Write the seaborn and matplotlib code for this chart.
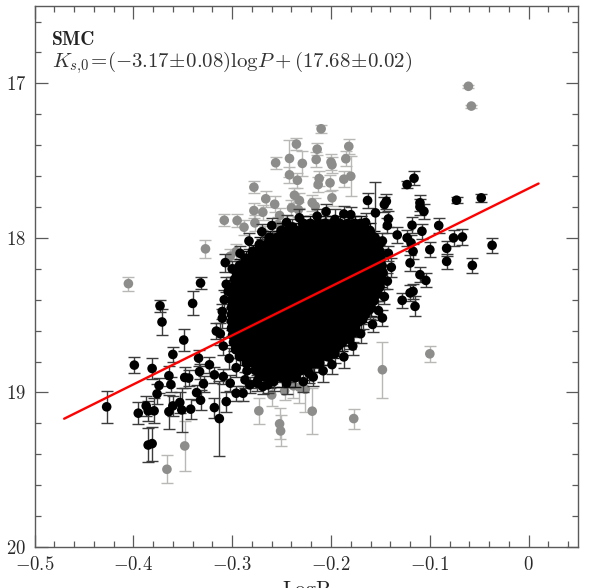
import matplotlib
matplotlib.use("Agg")
import matplotlib.pyplot as plt
import seaborn as sns
import pandas as pd
from matplotlib.ticker import MultipleLocator, FuncFormatter

# ---------------- data ----------------
# isolated / edge black points: logP, Ks magnitude, error
black_x = [-0.427,-0.399,-0.381,-0.373,-0.371,-0.340,-0.332,-0.307,-0.349,-0.360,
           -0.364,-0.374,-0.376,-0.395,-0.387,-0.385,-0.379,-0.385,-0.381,-0.364,
           -0.362,-0.360,-0.353,-0.351,-0.342,-0.348,-0.344,-0.336,-0.332,-0.333,
           -0.329,-0.334,-0.323,-0.318,-0.318,-0.313,-0.306,-0.309,-0.302,-0.296,
           -0.289,-0.316,-0.310,-0.304,-0.287,-0.282,-0.275,-0.269,-0.274,-0.264,
           -0.262,-0.255,-0.243,-0.242,-0.222,-0.225,-0.232,-0.193,-0.196,-0.181,
           -0.178,-0.168,-0.161,-0.148,-0.128,-0.115,-0.104,-0.110,-0.117,-0.120,
           -0.083,-0.057,-0.083,-0.076,-0.067,-0.100,-0.037,-0.091,-0.108,-0.118,
           -0.073,-0.048,-0.123,-0.116,-0.163,-0.146,-0.144,-0.110,-0.110,-0.106,
           -0.155,-0.142,-0.143,-0.133,-0.123,-0.119,-0.117,-0.120,-0.239,
           -0.245,-0.232,-0.214,-0.196,-0.180,-0.165,-0.205,-0.187,
           -0.148,-0.142,-0.139,-0.143,-0.146,-0.152,-0.158,
           -0.170,-0.178,-0.187,-0.199,-0.208,-0.218,-0.228,
           -0.245,-0.258,-0.272,-0.285,
           -0.306,-0.308,-0.310,-0.312,-0.309,-0.303,-0.296,-0.300,-0.292,-0.283,-0.270,-0.260]
black_y = [19.093,18.823,18.845,18.439,18.544,18.424,18.292,18.160,18.661,18.754,
           18.892,18.955,19.009,19.134,19.087,19.119,19.119,19.340,19.331,19.124,
           18.949,19.087,19.065,19.113,19.108,18.903,18.907,19.001,19.050,18.865,
           18.944,18.778,18.821,18.886,19.098,19.169,19.059,18.897,18.940,19.005,
           19.005,18.603,18.476,18.346,18.918,18.951,18.940,18.962,18.918,18.951,
           18.918,18.875,18.875,18.832,18.879,18.821,18.789,18.703,18.750,18.659,
           18.616,18.529,18.465,18.518,18.404,18.443,18.275,18.238,18.346,18.356,
           18.152,18.178,18.067,18.000,17.994,18.076,18.048,17.920,17.957,17.918,
           17.756,17.741,17.655,17.614,17.758,17.784,17.763,17.773,17.799,17.828,
           17.838,17.877,17.920,17.981,18.000,18.032,18.087,18.162,17.929,
           17.900,17.870,17.860,17.880,17.850,17.900,17.830,17.845,
           18.020,18.100,18.190,18.280,18.380,18.470,18.560,
           18.620,18.700,18.770,18.820,18.860,18.900,18.930,
           18.940,18.930,18.900,18.860,
           18.300,18.400,18.520,18.620,18.700,18.780,18.840,18.200,18.100,18.020,17.960,17.920]
black_e = [0.104,0.05,0.065,0.04,0.085,0.078,0.04,0.058,0.07,0.05,
           0.065,0.05,0.065,0.07,0.065,0.065,0.08,0.11,0.11,0.11,
           0.05,0.065,0.065,0.14,0.065,0.065,0.05,0.05,0.065,0.05,
           0.05,0.05,0.05,0.05,0.065,0.24,0.065,0.05,0.05,0.05,
           0.05,0.05,0.05,0.05,0.05,0.05,0.05,0.05,0.05,0.05,
           0.05,0.06,0.06,0.06,0.06,0.06,0.06,0.06,0.06,0.06,
           0.06,0.06,0.06,0.05,0.05,0.065,0.045,0.05,0.05,0.05,
           0.05,0.05,0.05,0.05,0.05,0.05,0.05,0.05,0.05,0.05,
           0.02,0.025,0.025,0.045,0.05,0.05,0.05,0.05,0.05,0.05,
           0.2,0.05,0.05,0.05,0.05,0.05,0.05,0.05,0.05,
           0.05,0.06,0.05,0.07,0.05,0.06,0.05,0.05,
           0.05,0.05,0.06,0.05,0.05,0.06,0.05,
           0.06,0.06,0.07,0.06,0.07,0.06,0.07,
           0.07,0.06,0.06,0.07,
           0.05,0.06,0.06,0.07,0.06,0.07,0.06,0.05,0.05,0.05,0.05,0.05]

# dense core of the distribution: (Ks, error, [logP values])
core_rows = [
    (17.910, 0.05, [-0.228,-0.221,-0.213,-0.206,-0.198,-0.191,-0.183,-0.176,-0.170]),
    (17.955, 0.05, [-0.250,-0.243,-0.235,-0.228,-0.220,-0.213,-0.205,-0.198,-0.190,-0.183,-0.175,-0.168,-0.161]),
    (18.000, 0.045, [-0.262,-0.254,-0.247,-0.239,-0.232,-0.224,-0.217,-0.209,-0.202,-0.194,-0.187,-0.179,-0.172,-0.164,-0.156]),
    (18.045, 0.05, [-0.272,-0.265,-0.257,-0.250,-0.243,-0.235,-0.228,-0.220,-0.213,-0.205,-0.198,-0.190,-0.183,-0.175,-0.168,-0.160,-0.152]),
    (18.090, 0.045, [-0.279,-0.271,-0.264,-0.256,-0.249,-0.241,-0.234,-0.226,-0.219,-0.211,-0.204,-0.196,-0.189,-0.181,-0.174,-0.166,-0.159,-0.151]),
    (18.135, 0.05, [-0.286,-0.278,-0.271,-0.263,-0.256,-0.248,-0.241,-0.233,-0.226,-0.218,-0.211,-0.203,-0.196,-0.188,-0.181,-0.173,-0.166,-0.158,-0.150]),
    (18.180, 0.045, [-0.292,-0.284,-0.277,-0.269,-0.262,-0.254,-0.247,-0.239,-0.232,-0.224,-0.217,-0.209,-0.202,-0.194,-0.187,-0.179,-0.172,-0.164,-0.157,-0.149]),
    (18.225, 0.05, [-0.295,-0.288,-0.280,-0.273,-0.265,-0.258,-0.250,-0.243,-0.235,-0.228,-0.220,-0.213,-0.205,-0.198,-0.190,-0.183,-0.175,-0.168,-0.160,-0.153,-0.148]),
    (18.270, 0.05, [-0.297,-0.290,-0.282,-0.275,-0.267,-0.260,-0.252,-0.245,-0.237,-0.230,-0.222,-0.215,-0.207,-0.200,-0.192,-0.185,-0.177,-0.170,-0.162,-0.155,-0.149]),
    (18.315, 0.045, [-0.298,-0.291,-0.283,-0.276,-0.268,-0.261,-0.253,-0.246,-0.238,-0.231,-0.223,-0.216,-0.208,-0.201,-0.193,-0.186,-0.178,-0.171,-0.163,-0.156,-0.151]),
    (18.360, 0.05, [-0.299,-0.292,-0.284,-0.277,-0.269,-0.262,-0.254,-0.247,-0.239,-0.232,-0.224,-0.217,-0.209,-0.202,-0.194,-0.187,-0.179,-0.172,-0.164,-0.157,-0.153]),
    (18.405, 0.05, [-0.300,-0.293,-0.285,-0.278,-0.270,-0.263,-0.255,-0.248,-0.240,-0.233,-0.225,-0.218,-0.210,-0.203,-0.195,-0.188,-0.180,-0.173,-0.165,-0.157]),
    (18.450, 0.055, [-0.300,-0.292,-0.285,-0.277,-0.270,-0.262,-0.255,-0.247,-0.240,-0.232,-0.225,-0.217,-0.210,-0.202,-0.195,-0.187,-0.180,-0.172,-0.165,-0.160]),
    (18.495, 0.05, [-0.300,-0.293,-0.285,-0.278,-0.270,-0.263,-0.255,-0.248,-0.240,-0.233,-0.225,-0.218,-0.210,-0.203,-0.195,-0.188,-0.180,-0.173,-0.166]),
    (18.540, 0.055, [-0.300,-0.292,-0.285,-0.277,-0.270,-0.262,-0.255,-0.247,-0.240,-0.232,-0.225,-0.217,-0.210,-0.202,-0.195,-0.187,-0.180,-0.172]),
    (18.585, 0.05, [-0.300,-0.293,-0.285,-0.278,-0.270,-0.263,-0.255,-0.248,-0.240,-0.233,-0.225,-0.218,-0.210,-0.203,-0.195,-0.188,-0.180,-0.176]),
    (18.630, 0.06, [-0.299,-0.291,-0.284,-0.276,-0.269,-0.261,-0.254,-0.246,-0.239,-0.231,-0.224,-0.216,-0.209,-0.201,-0.194,-0.186,-0.182]),
    (18.675, 0.055, [-0.298,-0.291,-0.283,-0.276,-0.268,-0.261,-0.253,-0.246,-0.238,-0.231,-0.223,-0.216,-0.208,-0.201,-0.193,-0.189]),
    (18.720, 0.06, [-0.296,-0.288,-0.281,-0.273,-0.266,-0.258,-0.251,-0.243,-0.236,-0.228,-0.221,-0.213,-0.206,-0.198]),
    (18.765, 0.06, [-0.292,-0.285,-0.277,-0.270,-0.262,-0.255,-0.247,-0.240,-0.232,-0.225,-0.217,-0.210,-0.203]),
    (18.810, 0.06, [-0.285,-0.277,-0.270,-0.262,-0.255,-0.247,-0.240,-0.232,-0.225,-0.217,-0.212]),
    (18.855, 0.065, [-0.276,-0.269,-0.261,-0.254,-0.246,-0.239,-0.231,-0.224]),
    (18.900, 0.065, [-0.265,-0.258,-0.250,-0.243,-0.236]),
]

# rejected (grey) points
gray_x = [-0.405,-0.327,-0.366,-0.348,-0.273,-0.296,-0.302,-0.210,-0.235,-0.242,
          -0.256,-0.229,-0.214,-0.215,-0.200,-0.199,-0.182,-0.185,-0.242,-0.234,
          -0.212,-0.213,-0.201,-0.187,-0.180,-0.278,-0.266,-0.237,-0.232,-0.257,
          -0.278,-0.269,-0.308,-0.295,-0.288,-0.277,-0.252,-0.254,-0.240,-0.233,
          -0.219,-0.216,-0.199,-0.267,-0.061,-0.058,-0.148,-0.100,-0.177,-0.219,
          -0.252,-0.251,-0.247,-0.238,-0.232,-0.226,-0.260]
gray_y = [18.296,18.071,19.497,19.346,19.119,18.089,18.119,17.294,17.393,17.486,
          17.514,17.518,17.426,17.493,17.510,17.527,17.408,17.488,17.592,17.627,
          17.616,17.655,17.644,17.620,17.601,17.672,17.747,17.724,17.758,17.782,
          17.823,17.834,17.886,17.888,17.931,17.903,17.855,17.914,17.806,17.817,
          17.773,17.795,17.741,17.972,17.019,17.147,18.853,18.750,19.169,19.121,
          19.203,19.249,18.990,18.957,18.966,18.979,19.016]
gray_e = [0.045,0.058,0.09,0.16,0.085,0.05,0.05,0.025,0.04,0.12,
          0.04,0.08,0.04,0.05,0.05,0.05,0.05,0.05,0.05,0.05,
          0.05,0.05,0.05,0.05,0.13,0.04,0.05,0.05,0.05,0.05,
          0.05,0.05,0.04,0.04,0.05,0.05,0.05,0.05,0.05,0.05,
          0.05,0.05,0.05,0.05,0.01,0.01,0.18,0.05,0.065,0.15,
          0.1,0.1,0.06,0.08,0.1,0.15,0.07]

# fitted relation Ks,0 = a logP + b
fit_slope = -3.17
fit_intercept = 17.68
fit_x = [-0.47, 0.01]

x_ticks = [-0.5, -0.4, -0.3, -0.2, -0.1, 0.0]
y_ticks = [17, 18, 19, 20]

# ---------------- tables ----------------
core = pd.DataFrame([(x, y, e) for (y, e, xs) in core_rows for x in xs],
                    columns=["logP", "Ks", "err"])
outer = pd.DataFrame({"logP": black_x, "Ks": black_y, "err": black_e})
bad = pd.DataFrame({"logP": gray_x, "Ks": gray_y, "err": gray_e})
fit = pd.DataFrame({"logP": fit_x,
                    "Ks": [fit_slope * v + fit_intercept for v in fit_x]})

# ---------------- style ----------------
sns.set_theme(style="ticks")
plt.rcParams.update({
    "font.family": ["cmr10"],
    "mathtext.fontset": "cm",
    "axes.formatter.use_mathtext": True,
    "axes.unicode_minus": True,
})

fig = plt.figure(figsize=(5.98, 5.88), dpi=100)
ax = fig.add_axes([0.0577, 0.0697, 0.909, 0.920])

ax.errorbar(bad["logP"], bad["Ks"], yerr=bad["err"], fmt="none",
            ecolor="#b8b8b6", elinewidth=1.0, capsize=4.5, capthick=1.0, zorder=1)
sns.scatterplot(data=bad, x="logP", y="Ks", color="#8d8d8b", s=48,
                edgecolor="none", linewidth=0, legend=False, ax=ax, zorder=2)

ax.errorbar(core["logP"], core["Ks"], yerr=core["err"], fmt="none",
            ecolor="#111111", elinewidth=1.0, capsize=4.5, capthick=1.0, zorder=3)
ax.errorbar(outer["logP"], outer["Ks"], yerr=outer["err"], fmt="none",
            ecolor="#3c3c3c", elinewidth=1.0, capsize=4.5, capthick=1.0, zorder=3)
sns.scatterplot(data=core, x="logP", y="Ks", color="black", s=62,
                edgecolor="none", linewidth=0, legend=False, ax=ax, zorder=4)
sns.scatterplot(data=outer, x="logP", y="Ks", color="black", s=48,
                edgecolor="none", linewidth=0, legend=False, ax=ax, zorder=4)

sns.lineplot(data=fit, x="logP", y="Ks", color="red", linewidth=1.7,
             ax=ax, zorder=6)

ax.set_xlim(-0.5, 0.05)
ax.set_ylim(20, 16.5)
ax.set_xticks(x_ticks)
ax.set_yticks(y_ticks)
ax.xaxis.set_minor_locator(MultipleLocator(0.02))
ax.yaxis.set_minor_locator(MultipleLocator(0.2))
fmt = FuncFormatter(lambda v, p: "$%g$" % (round(v, 2) + 0.0))
ax.xaxis.set_major_formatter(fmt)
ax.yaxis.set_major_formatter(fmt)

spine_col = "#5a5a5a"
for s in ax.spines.values():
    s.set_visible(True)
    s.set_color(spine_col)
    s.set_linewidth(1.0)
ax.tick_params(which="both", direction="in", top=True, right=True,
               color=spine_col, width=0.9, labelsize=13.5, labelcolor="#2a2a2a")
ax.tick_params(which="major", length=9.0)
ax.tick_params(which="minor", length=4.5)
ax.tick_params(axis="x", which="major", pad=6.5)
ax.tick_params(axis="y", which="major", pad=6)

ax.set_xlabel("LogP", fontsize=15, labelpad=5, color="#222222")
ax.set_ylabel("")

ax.text(0.032, 0.937, "SMC", transform=ax.transAxes, fontfamily="cmb10",
        fontsize=14, va="center", ha="left", color="#222222")
ax.text(0.032, 0.896,
        r"$K_{s,\!0}\!=\!(-3.17\!\pm\!0.08)\mathrm{log}P+(17.68\!\pm\!0.02)$",
        transform=ax.transAxes, fontsize=15, va="center", ha="left",
        color="#333333")

fig.savefig("out.png", dpi=100)
